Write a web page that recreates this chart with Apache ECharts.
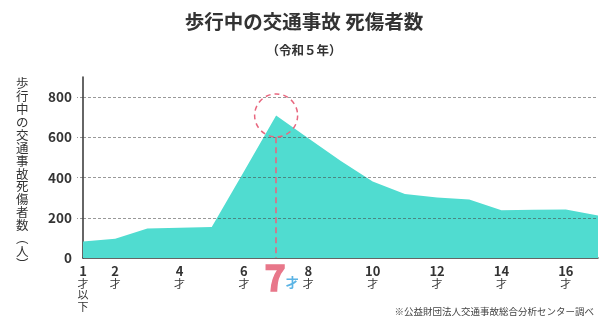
<!DOCTYPE html>
<html>
<head>
<meta charset="utf-8">
<script src="https://cdn.jsdelivr.net/npm/echarts@6/dist/echarts.min.js"></script>
<style>
  html, body { margin: 0; padding: 0; background: #fff; }
  #chart { width: 608px; height: 316px; }
</style>
</head>
<body>
<div id="chart"></div>
<script>
// 年齢（才）
const ages = ['1', '2', '3', '4', '5', '6', '7', '8', '9', '10', '11', '12', '13', '14', '15', '16', '17'];
// 死傷者数（人）
const casualties = [82, 96, 147, 150, 154, 430, 709, 596, 484, 380, 318, 301, 291, 238, 240, 241, 211];
// 表示する目盛ラベル
const shownAges = ['1', '2', '4', '6', '7', '8', '10', '12', '14', '16'];
const yTicks = [0, 200, 400, 600, 800];
const gridValues = [200, 400, 600, 800];
const peakAge = '7';
const peakValue = 709;

const yName = '歩行中の交通事故死傷者数︵人︶';
const FONT = '"Noto Sans CJK JP", "Noto Sans", sans-serif';

const chart = echarts.init(document.getElementById('chart'), null, { renderer: 'canvas' });

const markLines = gridValues.map(v => ({
    yAxis: v,
    lineStyle: { color: 'rgba(70,70,70,0.55)', type: [3, 2], width: 1 }
}));
// 7才の縦線
markLines.push([
    { coord: [peakAge, 600], lineStyle: { color: '#e8677f', type: [6, 4], width: 1.6 } },
    { coord: [peakAge, 0] }
]);

const option = {
    animation: false,
    title: {
        text: '歩行中の交通事故 死傷者数',
        subtext: '（令和５年）',
        left: 'center',
        top: 7,
        itemGap: 12,
        textStyle: { fontFamily: FONT, fontSize: 19.5, fontWeight: 'bold', color: '#333' },
        subtextStyle: { fontFamily: FONT, fontSize: 12.5, fontWeight: 'bold', color: '#333' }
    },
    graphic: [{
        type: 'text',
        left: 16,
        top: 77,
        style: {
            text: yName.split('').join('\n'),
            fontFamily: FONT,
            fontSize: 12.5,
            lineHeight: 12.9,
            fill: '#333'
        }
    }, {
        // 出典
        type: 'text',
        right: 14,
        bottom: 0,
        style: {
            text: '※公益財団法人交通事故総合分析センター調べ',
            fontFamily: FONT,
            fontSize: 9.5,
            fill: '#444'
        }
    }],
    grid: { left: 83, right: 10, top: 77, bottom: 58 },
    xAxis: {
        type: 'category',
        data: ages,
        boundaryGap: false,
        axisLine: { lineStyle: { color: '#333', width: 1.5 } },
        axisTick: { show: false },
        axisLabel: {
            interval: 0,
            margin: 7,
            verticalAlign: 'top',
            formatter: function (v) {
                if (v === '1') return '{num|1}\n{sai|才}\n{sai|以}\n{sai|下}';
                if (v === peakAge) return '{big|7}{blue|才}';
                if (shownAges.indexOf(v) < 0) return '';
                return '{num|' + v + '}\n{sai|才}';
            },
            rich: {
                num: { fontFamily: FONT, fontSize: 13, fontWeight: 'bold', color: '#333', lineHeight: 13 },
                sai: { fontFamily: FONT, fontSize: 11, color: '#333', lineHeight: 11.5 },
                big: { fontFamily: FONT, fontSize: 36, fontWeight: 'bold', color: '#e8778a', lineHeight: 30, verticalAlign: 'bottom', textBorderColor: '#e8778a', textBorderWidth: 1.5, padding: [0, 0, 0, 11] },
                blue: { fontFamily: FONT, fontSize: 13, fontWeight: 'bold', color: '#5bb4e5', lineHeight: 30, verticalAlign: 'bottom', padding: [0, 0, 6, 0] }
            }
        }
    },
    yAxis: {
        type: 'value',
        min: 0,
        max: 900,
        interval: 200,
        axisLine: { show: true, lineStyle: { color: '#333', width: 1.5 } },
        axisTick: {
            show: true,
            length: 6,
            customValues: gridValues,
            lineStyle: { color: 'rgba(70,70,70,0.55)', type: [3, 2] }
        },
        axisLabel: {
            customValues: yTicks,
            margin: 11,
            fontFamily: FONT,
            fontSize: 13.5,
            fontWeight: 'bold',
            color: '#333'
        },
        splitLine: { show: false }
    },
    series: [{
        type: 'line',
        data: casualties,
        symbol: 'none',
        lineStyle: { width: 0 },
        areaStyle: { color: '#50dcd0', opacity: 1 },
        markLine: {
            silent: true,
            symbol: 'none',
            label: { show: false },
            data: markLines
        },
        markPoint: {
            silent: true,
            symbol: 'circle',
            symbolSize: 43,
            label: { show: false },
            itemStyle: {
                color: 'rgba(0,0,0,0)',
                borderColor: '#e8677f',
                borderWidth: 1.5,
                borderType: [5, 4]
            },
            data: [{ coord: [peakAge, peakValue] }]
        }
    }]
};

chart.setOption(option);
</script>
</body>
</html>
